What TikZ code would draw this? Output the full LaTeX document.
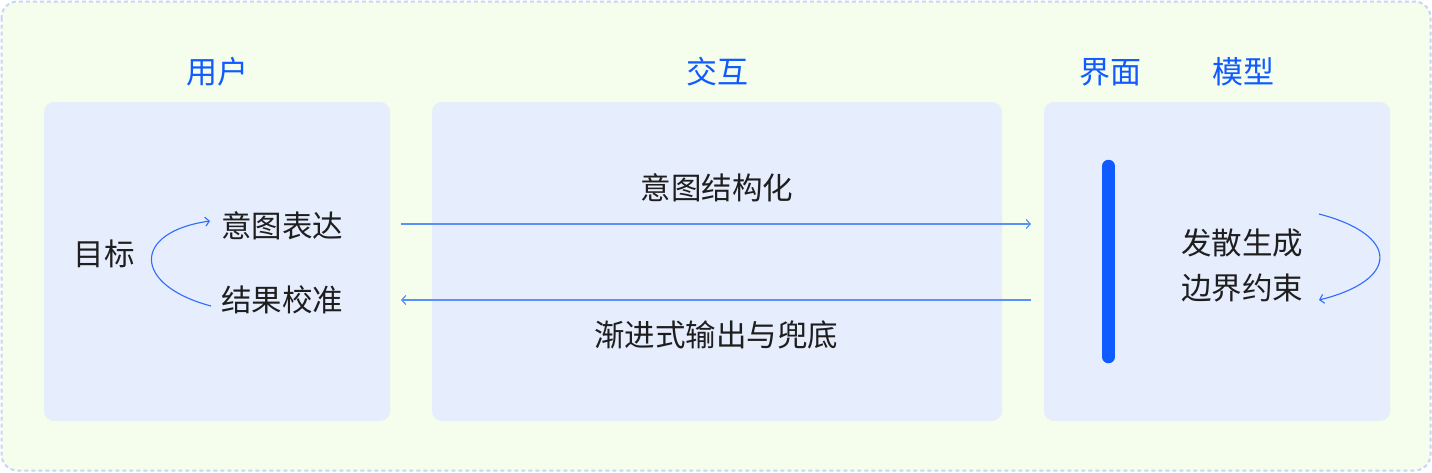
\documentclass[tikz,border=0pt]{standalone}
\usepackage{fontspec}
\setmainfont{Noto Sans CJK SC}
\usetikzlibrary{arrows.meta}
\definecolor{outerfill}{HTML}{F5FDEC}
\definecolor{outerline}{HTML}{C6D6F6}
\definecolor{panelfill}{HTML}{E6EDFD}
\definecolor{headblue}{HTML}{0F5BFF}
\definecolor{arrowblue}{HTML}{5B8FF9}
\definecolor{curveblue}{HTML}{2F6BFF}
\definecolor{txt}{HTML}{1E1E1E}
\tikzset{
  panel/.style={fill=panelfill, draw=none, rounded corners=10pt},
  head/.style={text=headblue, font=\fontsize{31}{33}\selectfont, inner sep=0pt},
  body/.style={text=txt, font=\fontsize{30.5}{32}\selectfont, inner sep=0pt},
  flow/.style={draw=arrowblue, line width=1.2pt, -{Straight Barb[length=4pt,width=9pt,line width=1.2pt]}},
  loop/.style={draw=curveblue, line width=1.1pt, -{Straight Barb[length=4pt,width=9pt,line width=1.1pt]}},
}
\begin{document}
\begin{tikzpicture}[x=1pt,y=-1pt]
\useasboundingbox (0,0) rectangle (1432,472);
\draw[fill=outerfill, draw=outerline, line width=2pt, dash pattern=on 4pt off 3pt, rounded corners=16pt] (1.5,1.5) rectangle (1430.5,470.5);
% panels
\path[panel] (44,102) rectangle (390,421);
\path[panel] (432,102) rectangle (1002,421);
\path[panel] (1044,102) rectangle (1390,421);
% headings
\node[head] (huser) at (217,72) {用户};
\node[head] (hinter) at (717,72) {交互};
\node[head] (hui) at (1110,72) {界面};
\node[head] (hmodel) at (1243,72) {模型};
% left panel
\node[body] (goal) at (104,254) {目标};
\node[body] (intent) at (282,226) {意图表达};
\node[body] (calib) at (282,300) {结果校准};
\coordinate (lstart) at (211,306);
\coordinate (lend) at (210,221);
\draw[loop] (lstart) .. controls (132,285) and (132,232) .. (lend);
% middle
\node[body] (struct) at (717,188) {意图结构化};
\node[body] (prog) at (716,335) {渐进式输出与兜底};
\coordinate (a1s) at (401,224);
\coordinate (a1e) at (1031,224);
\coordinate (a2s) at (1031,300);
\coordinate (a2e) at (401,300);
\draw[flow] (a1s) -- (a1e);
\draw[flow] (a2s) -- (a2e);
% right
\coordinate (bartop) at (1108.5,166);
\coordinate (barbot) at (1108.5,357);
\draw[draw=headblue, line width=12.5pt, line cap=round] (bartop) -- (barbot);
\node[body] (div) at (1242,243) {发散生成};
\node[body] (bound) at (1242,288) {边界约束};
\coordinate (rstart) at (1319,214);
\coordinate (rend) at (1319,300);
\draw[loop] (rstart) .. controls (1400,235) and (1400,280) .. (rend);
\end{tikzpicture}
\end{document}
